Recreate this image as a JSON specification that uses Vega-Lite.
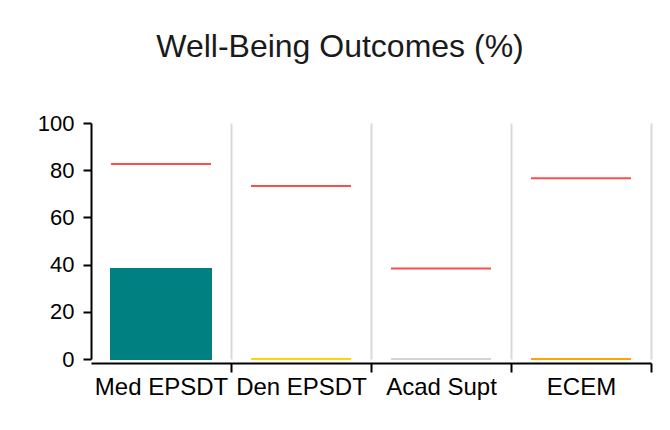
{
  "$schema": "https://vega.github.io/schema/vega-lite/v6.json",
  "autosize": {"type": "none"},
  "width": 560,
  "height": 236,
  "padding": {"left": 91, "top": 123, "right": 19, "bottom": 71},
  "background": "white",
  "config": {"view": {"stroke": null}},
  "title": {
    "text": "Well-Being Outcomes (%)",
    "font": "Liberation Sans",
    "fontSize": 32,
    "fontWeight": "normal",
    "color": "#1a1a1a",
    "anchor": "middle",
    "dx": -31,
    "offset": 48
  },
  "data": {
    "values": [
      {"measure": "Med EPSDT", "value": 38.1, "target": 82.6, "status": "Reported"},
      {"measure": "Den EPSDT", "value": 0, "target": 73.3, "status": "Low"},
      {"measure": "Acad Supt", "value": 0, "target": 38.4, "status": "No data"},
      {"measure": "ECEM", "value": 0, "target": 76.6, "status": "Very low"}
    ]
  },
  "encoding": {
    "x": {
      "field": "measure",
      "type": "nominal",
      "sort": null,
      "scale": {"paddingInner": 0.285714, "paddingOuter": 0.142857},
      "axis": {
        "title": null,
        "orient": "bottom",
        "labelAngle": 0,
        "labelFont": "Liberation Sans",
        "labelFontSize": 24,
        "labelColor": "black",
        "labelPadding": 3,
        "tickSize": 9,
        "tickWidth": 2,
        "tickColor": "black",
        "domainColor": "black",
        "domainWidth": 2,
        "offset": 4,
        "bandPosition": 0.5,
        "tickOffset": 70,
        "labelOffset": -70,
        "grid": true,
        "gridColor": "#d9d9d9",
        "gridWidth": 2
      }
    }
  },
  "layer": [
    {
      "mark": {"type": "bar", "strokeWidth": 2},
      "encoding": {
        "y": {
          "field": "value",
          "type": "quantitative",
          "scale": {"domain": [0, 100]},
          "axis": {
            "title": null,
            "values": [0, 20, 40, 60, 80, 100],
            "grid": false,
            "labelFont": "Liberation Sans",
            "labelFontSize": 22,
            "labelColor": "black",
            "labelPadding": 9,
            "tickSize": 8,
            "tickWidth": 2,
            "tickColor": "black",
            "domainColor": "black",
            "domainWidth": 2
          }
        },
        "color": {
          "field": "status",
          "type": "nominal",
          "scale": {"domain": ["Reported", "Low", "No data", "Very low"], "range": ["#008080", "#ffd700", "#d3d3d3", "#ffa500"]},
          "legend": null
        },
        "stroke": {
          "field": "status",
          "type": "nominal",
          "scale": {"domain": ["Reported", "Low", "No data", "Very low"], "range": ["#008080", "#ffd700", "#d3d3d3", "#ffa500"]},
          "legend": null
        }
      }
    },
    {
      "mark": {"type": "tick", "color": "red", "thickness": 2, "size": 100},
      "encoding": {
        "y": {"field": "target", "type": "quantitative"}
      }
    }
  ]
}
